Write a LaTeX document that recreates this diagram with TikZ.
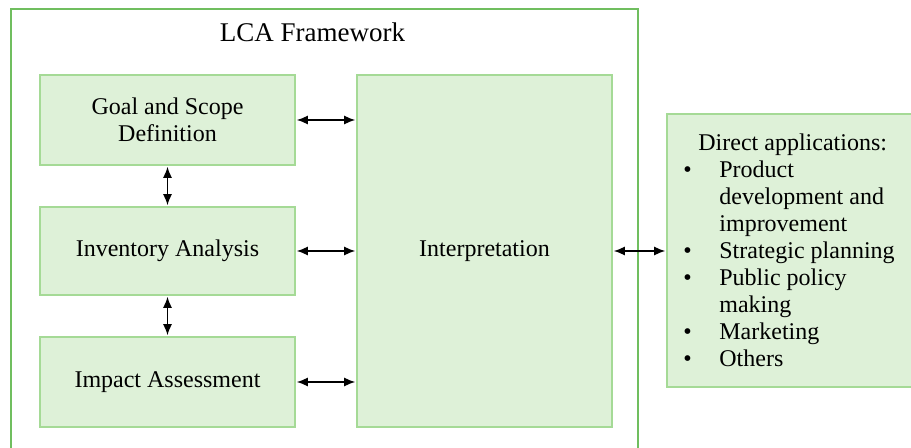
\documentclass[tikz,border=0pt]{standalone}
\usepackage{fontspec}
\setmainfont{Liberation Serif}
\usepackage{tikz}
\usetikzlibrary{calc,arrows.meta}
\usepackage{xcolor}
\definecolor{boxfill}{RGB}{222,241,216}
\definecolor{boxline}{RGB}{165,218,150}
\definecolor{frameline}{RGB}{112,190,95}

\begin{document}
\begin{tikzpicture}[x=0.5pt,y=-0.5pt,
		stage/.style={draw=boxline,fill=boxfill,line width=0.8pt,rectangle,inner sep=0pt,
			minimum width=127.5pt,align=center,font=\fontsize{12}{13.5}\selectfont},
		link/.style={black,line width=0.7pt,{Latex[length=5.5pt,width=4.5pt]}-{Latex[length=5.5pt,width=4.5pt]},
			shorten <=0.5pt,shorten >=0.5pt}]
		\useasboundingbox (0,0) rectangle (911,448);
		\clip (0,0) rectangle (911,448); % Cuts the frame and the right box at the edge
		\coordinate (FrameBL) at (11,460);
		\coordinate (FrameTL) at (11,9);
		\coordinate (FrameTR) at (638,9);
		\coordinate (FrameBR) at (638,460);
		\draw [frameline, line width=0.8pt] (FrameBL) -- (FrameTL) -- (FrameTR) -- (FrameBR);% Draw the open frame

		\node (title) at (312.5,32) {\fontsize{13.5}{15}\selectfont LCA Framework};

		\node[stage,minimum height=45pt] (goal) at (167.5,120) {Goal and Scope\\Definition};
		\node[stage,minimum height=44pt] (inv) at (167.5,251) {Inventory Analysis};
		\node[stage,minimum height=45pt] (impact) at (167.5,382) {Impact Assessment};
		\node[stage,minimum height=176pt] (interp) at (484.5,251) {Interpretation};
		\node[stage,minimum width=122.5pt,minimum height=136.5pt] (apps) at (789.5,250.5) {};

		\node[anchor=west,inner sep=0pt,font=\fontsize{12}{13.5}\selectfont] (list) at (683,253) {%
			\begin{tabular}{@{}p{18pt}@{}l@{}}
			\multicolumn{2}{@{\hspace{7.5pt}}l@{}}{Direct applications:}\\
			\textbullet & Product\\
			 & development and\\
			 & improvement\\
			\textbullet & Strategic planning\\
			\textbullet & Public policy\\
			 & making\\
			\textbullet & Marketing\\
			\textbullet & Others
			\end{tabular}};

		% arrows between the stages
		\draw[link] (goal.south) -- (inv.north);
		\draw[link] (inv.south) -- (impact.north);
		\draw[link] (goal.east) -- (goal.east -| interp.west);
		\draw[link] (inv.east) -- (inv.east -| interp.west);
		\draw[link] (impact.east) -- (impact.east -| interp.west);
		\draw[link] (interp.east) -- (interp.east -| apps.west);
	  \end{tikzpicture}
\end{document}
